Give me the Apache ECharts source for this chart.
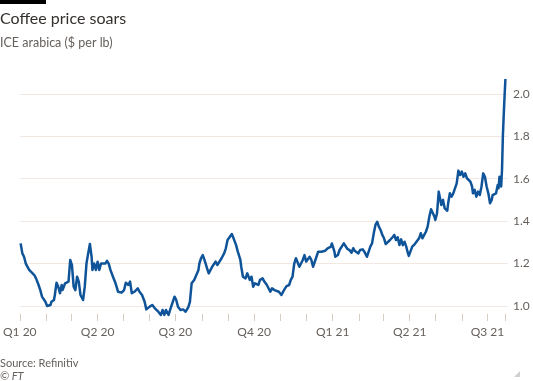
<!DOCTYPE html>
<html><head><meta charset="utf-8">
<script src="https://cdn.jsdelivr.net/npm/echarts@6/dist/echarts.min.js"></script>
<style>html,body{margin:0;padding:0;background:#fff}#c{width:533px;height:381px}</style>
</head><body><div id="c"></div>
<script>
const dates=['2020-01-02','2020-01-03','2020-01-04','2020-01-06','2020-01-08','2020-01-10','2020-01-12','2020-01-14','2020-01-18','2020-01-20','2020-01-21','2020-01-23','2020-01-25','2020-01-27','2020-01-29','2020-01-31','2020-02-02','2020-02-04','2020-02-06','2020-02-07','2020-02-10','2020-02-11','2020-02-13','2020-02-15','2020-02-17','2020-02-19','2020-02-20','2020-02-23','2020-02-25','2020-02-27','2020-02-29','2020-03-02','2020-03-04','2020-03-06','2020-03-08','2020-03-10','2020-03-12','2020-03-15','2020-03-17','2020-03-19','2020-03-21','2020-03-23','2020-03-25','2020-03-26','2020-03-28','2020-03-30','2020-04-01','2020-04-03','2020-04-05','2020-04-07','2020-04-10','2020-04-12','2020-04-14','2020-04-16','2020-04-19','2020-04-22','2020-04-25','2020-04-27','2020-04-29','2020-05-02','2020-05-04','2020-05-07','2020-05-09','2020-05-11','2020-05-14','2020-05-16','2020-05-18','2020-05-20','2020-05-23','2020-05-26','2020-05-28','2020-06-01','2020-06-04','2020-06-07','2020-06-11','2020-06-14','2020-06-16','2020-06-18','2020-06-20','2020-06-23','2020-06-25','2020-06-28','2020-06-30','2020-07-02','2020-07-04','2020-07-05','2020-07-07','2020-07-10','2020-07-13','2020-07-16','2020-07-18','2020-07-20','2020-07-23','2020-07-25','2020-07-28','2020-07-29','2020-07-31','2020-08-02','2020-08-04','2020-08-07','2020-08-09','2020-08-11','2020-08-13','2020-08-15','2020-08-17','2020-08-19','2020-08-21','2020-08-24','2020-08-27','2020-08-29','2020-08-31','2020-09-02','2020-09-05','2020-09-07','2020-09-09','2020-09-10','2020-09-12','2020-09-15','2020-09-16','2020-09-18','2020-09-21','2020-09-23','2020-09-26','2020-09-28','2020-09-30','2020-10-02','2020-10-06','2020-10-08','2020-10-11','2020-10-13','2020-10-16','2020-10-18','2020-10-20','2020-10-22','2020-10-25','2020-10-27','2020-10-30','2020-11-02','2020-11-05','2020-11-08','2020-11-11','2020-11-13','2020-11-15','2020-11-17','2020-11-19','2020-11-21','2020-11-23','2020-11-25','2020-11-27','2020-11-29','2020-12-01','2020-12-03','2020-12-05','2020-12-07','2020-12-09','2020-12-11','2020-12-13','2020-12-15','2020-12-17','2020-12-19','2020-12-21','2020-12-23','2020-12-26','2020-12-27','2020-12-30','2020-12-31','2021-01-03','2021-01-04','2021-01-07','2021-01-09','2021-01-11','2021-01-14','2021-01-16','2021-01-18','2021-01-21','2021-01-23','2021-01-25','2021-01-27','2021-01-29','2021-01-31','2021-02-02','2021-02-05','2021-02-07','2021-02-10','2021-02-12','2021-02-14','2021-02-16','2021-02-18','2021-02-20','2021-02-22','2021-02-24','2021-02-26','2021-02-28','2021-03-02','2021-03-04','2021-03-06','2021-03-09','2021-03-12','2021-03-14','2021-03-16','2021-03-18','2021-03-20','2021-03-22','2021-03-24','2021-03-26','2021-03-28','2021-03-30','2021-03-31','2021-04-02','2021-04-04','2021-04-07','2021-04-09','2021-04-12','2021-04-14','2021-04-16','2021-04-18','2021-04-20','2021-04-22','2021-04-24','2021-04-26','2021-04-28','2021-04-30','2021-05-01','2021-05-03','2021-05-05','2021-05-07','2021-05-08','2021-05-10','2021-05-12','2021-05-15','2021-05-16','2021-05-18','2021-05-20','2021-05-22','2021-05-24','2021-05-26','2021-05-28','2021-05-30','2021-06-01','2021-06-03','2021-06-05','2021-06-07','2021-06-09','2021-06-11','2021-06-13','2021-06-14','2021-06-16','2021-06-18','2021-06-20','2021-06-22','2021-06-24','2021-06-26','2021-06-28','2021-06-30','2021-07-02','2021-07-04','2021-07-06','2021-07-07','2021-07-09','2021-07-11','2021-07-13','2021-07-14','2021-07-15','2021-07-17','2021-07-18','2021-07-19','2021-07-20','2021-07-21','2021-07-22'];
const prices=[1.295,1.287,1.248,1.232,1.200,1.209,1.170,1.162,1.146,1.130,1.138,1.099,1.075,1.044,1.047,1.020,1.000,1.000,1.005,1.020,1.028,1.052,1.110,1.091,1.060,1.099,1.075,1.107,1.099,1.115,1.217,1.193,1.091,1.075,1.138,1.115,1.052,1.028,1.091,1.200,1.248,1.292,1.232,1.170,1.200,1.170,1.209,1.170,1.200,1.209,1.200,1.213,1.200,1.170,1.138,1.107,1.067,1.075,1.063,1.075,1.110,1.099,1.115,1.060,1.067,1.075,1.083,1.067,1.052,1.020,0.984,0.997,1.005,0.989,0.973,0.958,0.981,0.958,0.981,0.958,0.984,1.020,1.044,1.028,0.997,0.989,0.981,0.984,0.973,0.994,1.020,1.107,1.123,1.130,1.170,1.200,1.225,1.240,1.217,1.178,1.154,1.162,1.185,1.178,1.209,1.193,1.200,1.225,1.248,1.272,1.311,1.319,1.339,1.319,1.327,1.287,1.256,1.217,1.185,1.138,1.130,1.154,1.123,1.138,1.091,1.107,1.099,1.123,1.130,1.115,1.099,1.091,1.067,1.083,1.075,1.083,1.067,1.052,1.075,1.094,1.099,1.123,1.138,1.200,1.225,1.232,1.185,1.185,1.217,1.240,1.209,1.200,1.232,1.217,1.185,1.193,1.232,1.256,1.264,1.256,1.264,1.260,1.272,1.264,1.280,1.295,1.256,1.232,1.240,1.264,1.272,1.295,1.287,1.270,1.262,1.251,1.272,1.259,1.267,1.248,1.264,1.267,1.256,1.232,1.232,1.280,1.295,1.343,1.382,1.397,1.374,1.358,1.335,1.319,1.292,1.295,1.311,1.324,1.335,1.311,1.324,1.287,1.314,1.287,1.303,1.280,1.248,1.236,1.240,1.280,1.292,1.287,1.319,1.343,1.319,1.335,1.350,1.374,1.421,1.456,1.452,1.421,1.405,1.437,1.539,1.531,1.476,1.500,1.460,1.449,1.484,1.531,1.515,1.531,1.528,1.578,1.638,1.617,1.633,1.609,1.625,1.602,1.594,1.586,1.563,1.531,1.547,1.515,1.539,1.523,1.563,1.625,1.609,1.563,1.531,1.484,1.500,1.523,1.515,1.531,1.570,1.555,1.609,1.563,1.641,1.800,1.900,1.990,2.070];
const tickDates=['2020-01-01','2020-02-01','2020-03-01','2020-04-01','2020-05-01','2020-06-01','2020-07-01','2020-08-01','2020-09-01','2020-10-01','2020-11-01','2020-12-01','2021-01-01','2021-02-01','2021-03-01','2021-04-01','2021-05-01','2021-06-01','2021-07-01','2021-07-22'];
const quarterDates=['2020-01-01','2020-04-01','2020-07-01','2020-10-01','2021-01-01','2021-04-01','2021-07-01'];
const quarterLabels=['Q1 20','Q2 20','Q3 20','Q4 20','Q1 21','Q2 21','Q3 21'];

function ts(s){const p=s.split('-').map(Number);return Date.UTC(p[0],p[1]-1,p[2]);}
const quarterTs=quarterDates.map(ts);
const FONT='Lato';
const chart=echarts.init(document.getElementById('c'),null,{renderer:'canvas'});
chart.setOption({
  backgroundColor:'#ffffff',
  animation:false,
  grid:{left:15.7,right:25,top:93.8,bottom:75,containLabel:false},
  xAxis:{
    type:'value',min:ts('2020-01-01'),max:ts('2021-07-25'),
    offset:8,
    axisLine:{show:false},
    axisTick:{show:true,length:7,lineStyle:{color:'#d4cbc3',width:1},customValues:tickDates.map(ts)},
    axisLabel:{customValues:quarterTs,margin:12,color:'#66605c',fontFamily:FONT,fontSize:12,
      formatter:function(v){let best=-1,bd=1e18;quarterTs.forEach((q,i)=>{const d=Math.abs(q-v);if(d<bd){bd=d;best=i;}});return bd<86400000*2?quarterLabels[best]:'';}},
    splitLine:{show:false}
  },
  yAxis:{
    type:'value',position:'right',min:1.0,max:2.0,interval:0.2,
    axisLine:{show:false},axisTick:{show:false},
    axisLabel:{margin:5,color:'#66605c',fontFamily:FONT,fontSize:12,formatter:v=>v.toFixed(1)},
    splitLine:{lineStyle:{color:'#f2e8e1',width:1}}
  },
  series:[{
    type:'line',data:dates.map((d,i)=>[ts(d),prices[i]]),
    showSymbol:false,clip:false,smooth:false,
    lineStyle:{color:'#0f5499',width:2.5,join:'round'}
  }],
  graphic:[
    {type:'rect',shape:{x:0,y:0,width:46,height:4},style:{fill:'#000'}},
    {type:'text',style:{text:'Coffee price soars',x:0,y:19,fontFamily:FONT,fontSize:16,fill:'#33302e',verticalAlign:'middle'}},
    {type:'text',style:{text:'ICE arabica ($ per lb)',x:0,y:43,fontFamily:FONT,fontSize:12.5,fill:'#66605c',verticalAlign:'middle'}},
    {type:'text',style:{text:'Source: Refinitiv',x:0,y:363,fontFamily:FONT,fontSize:11,fill:'#66605c',verticalAlign:'middle'}},
    {type:'text',style:{text:'© FT',x:0,y:376,fontFamily:FONT,fontSize:11,fontStyle:'italic',fill:'#66605c',verticalAlign:'middle'}},
    {type:'polygon',shape:{points:[[520,371],[520,377],[514,377]]},style:{fill:'#d0d0d0'}}
  ]
});
</script></body></html>
